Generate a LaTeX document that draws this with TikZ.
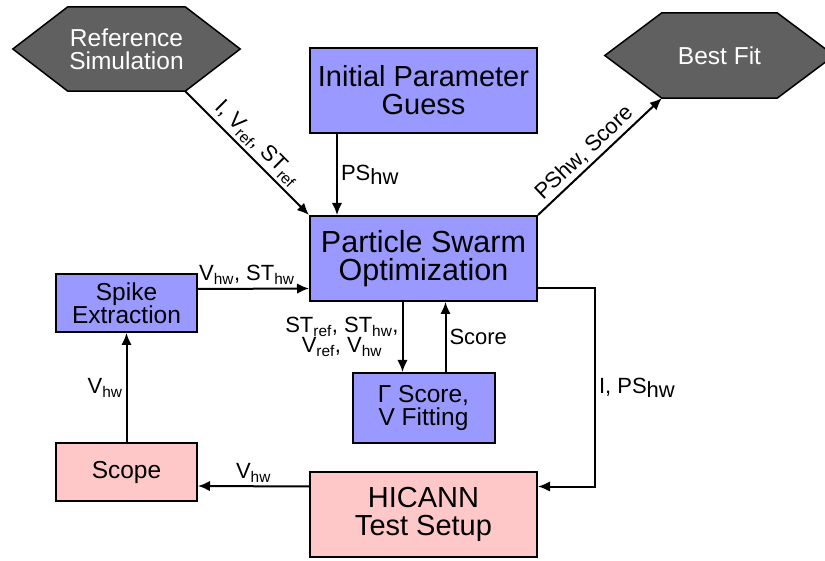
\documentclass[tikz,border=0pt]{standalone}
\usepackage{fontspec}
\setmainfont{Liberation Sans}
\usetikzlibrary{arrows.meta,backgrounds}
\definecolor{psoblue}{RGB}{153,153,255}
\definecolor{hwpink}{RGB}{255,200,200}
\definecolor{hexgray}{RGB}{96,96,96}
\newcommand{\lo}[1]{\textsubscript{#1}}
\newcommand{\hwlow}{\raisebox{-4pt}{hw}}
\begin{document}
\begin{tikzpicture}[x=1pt, y=-1pt,
            box/.style={rectangle, draw, line width=2pt, fill=psoblue, inner sep=0pt, align=center},
            hwbox/.style={box, fill=hwpink},
            big/.style={font=\fontsize{29}{28}\selectfont},
            small/.style={font=\fontsize{24.5}{23.5}\selectfont},
            hexlabel/.style={text=white, inner sep=0pt, align=center, font=\fontsize{24.5}{23}\selectfont},
            hexagon/.style={draw, line width=1.5pt, fill=hexgray},
            arrow/.style={-{Latex[length=12pt,width=10.5pt]}, line width=2pt},
            lbl/.style={font=\fontsize{22}{21}\selectfont, inner sep=3pt}
        ]
            \useasboundingbox (0,0) rectangle (825,561);

            % Reference Simulation
            \node[hexlabel, minimum width=117pt, minimum height=84pt] (refsim) at (126.5,49) {Reference\\Simulation};

            % Best Fit
            \node[hexlabel, minimum width=115pt, minimum height=85pt] (bestfit) at (719.5,55.5) {Best Fit};

            \begin{scope}[on background layer]
                \draw[hexagon] (refsim.north west) -- (refsim.north east) -- ([xshift=55pt]refsim.east)
                    -- (refsim.south east) -- (refsim.south west) -- ([xshift=-55pt]refsim.west) -- cycle;
                \draw[hexagon] (bestfit.north west) -- (bestfit.north east) -- ([xshift=57pt]bestfit.east)
                    -- (bestfit.south east) -- (bestfit.south west) -- ([xshift=-57pt]bestfit.west) -- cycle;
            \end{scope}

            % Initial Parameter Guess
            \node[box, big, minimum width=227pt, minimum height=85pt] (init) at (423.5,90.5) {Initial Parameter\\Guess};

            % Particle Swarm Optimization
            \node[box, big, font=\fontsize{30.5}{28}\selectfont, minimum width=227pt, minimum height=85pt] (pso) at (423.5,258.5) {Particle Swarm\\Optimization};

            % Spike Extraction
            \node[box, small, minimum width=141pt, minimum height=58pt] (spike) at (126.5,303) {Spike\\Extraction};

            % Gamma Score
            \node[box, small, minimum width=142pt, minimum height=70pt] (gamma) at (423.5,408) {Γ Score,\\V Fitting};

            % Scope
            \node[hwbox, small, minimum width=141pt, minimum height=58pt] (scope) at (126.5,472) {Scope};

            % HICANN Test Setup
            \node[hwbox, big, minimum width=227pt, minimum height=85pt] (hicann) at (423.5,514.5) {HICANN\\Test Setup};

            % Connections
            \draw[arrow] (refsim.south east) -- node[lbl, above, sloped] {I, V\lo{ref}, ST\lo{ref}} (pso.north west);
            \draw[arrow] ([xshift=28pt]init.south west) -- node[lbl, right] {PS\hwlow} ([xshift=28pt]pso.north west);
            \draw[arrow] (pso.north east) -- node[lbl, above, sloped, pos=0.45] {PShw, Score} (bestfit.south west);
            \draw[arrow] ([yshift=14pt]spike.east) -- node[lbl, above, pos=0.44] {V\lo{hw}, ST\lo{hw}} ([yshift=-30pt]pso.west);
            \draw[arrow] ([xshift=-21pt]pso.south) -- node[lbl, left, align=center, font=\fontsize{22}{19}\selectfont] {ST\lo{ref}, ST\lo{hw},\\V\lo{ref}, V\lo{hw}} ([xshift=-21pt]gamma.north);
            \draw[arrow] ([xshift=22pt]gamma.north) -- node[lbl, right] {Score} ([xshift=22pt]pso.south);
            \draw[arrow] ([yshift=-30pt]pso.east) -- ++(57,0) -- node[lbl, right] {I, PS\hwlow} ++(0,198) -- ([yshift=28pt]hicann.east);
            \draw[arrow] ([yshift=28pt]hicann.west) -- node[lbl, above] {V\lo{hw}} ([yshift=-14pt]scope.east);
            \draw[arrow] (scope.north) -- node[lbl, left] {V\lo{hw}} (spike.south);

        \end{tikzpicture}
\end{document}
